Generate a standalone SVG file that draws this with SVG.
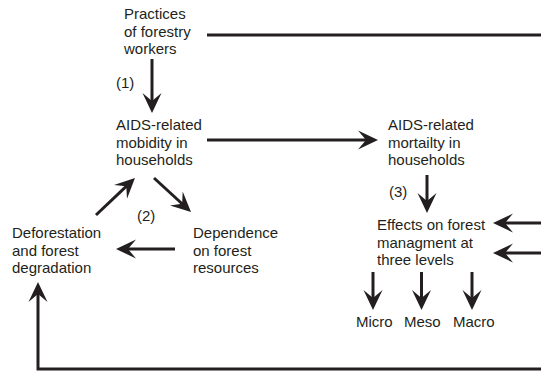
<svg xmlns="http://www.w3.org/2000/svg" width="541" height="371" viewBox="0 0 541 371">
<style>
text{font-family:"Liberation Sans",Arial,sans-serif;font-size:15px;fill:#231f20}
.c{fill:none;stroke:#231f20;stroke-width:3}
</style>
<defs>
<marker id="ah" markerUnits="userSpaceOnUse" viewBox="0 0 20 20" markerWidth="20" markerHeight="20" refX="9" refY="10" orient="auto">
<path d="M20,10 L0,0.5 L8,10 L0,19.5 Z" fill="#231f20"/>
</marker>
</defs>
<rect width="541" height="371" fill="#fff"/>
<g id="connectors">
<line class="c" x1="207" y1="35" x2="541" y2="35"/>
<line class="c" x1="152" y1="59" x2="152" y2="102" marker-end="url(#ah)"/>
<line class="c" x1="207" y1="140" x2="367" y2="140" marker-end="url(#ah)"/>
<line class="c" x1="427" y1="175" x2="427" y2="202" marker-end="url(#ah)"/>
<line class="c" x1="541" y1="223" x2="504" y2="223" marker-end="url(#ah)"/>
<line class="c" x1="541" y1="253" x2="504" y2="253" marker-end="url(#ah)"/>
<line class="c" x1="373" y1="272" x2="373" y2="299" marker-end="url(#ah)"/>
<line class="c" x1="421.5" y1="272" x2="421.5" y2="299" marker-end="url(#ah)"/>
<line class="c" x1="472" y1="272" x2="472" y2="299" marker-end="url(#ah)"/>
<polyline class="c" points="541,369 38,369 38,293" marker-end="url(#ah)"/>
<line class="c" x1="96" y1="215" x2="127" y2="185.6" marker-end="url(#ah)"/>
<line class="c" x1="154" y1="178" x2="182.9" y2="204.5" marker-end="url(#ah)"/>
<line class="c" x1="175" y1="249" x2="127" y2="249" marker-end="url(#ah)"/>
</g>
<g id="practices"><text x="124" y="19">Practices</text><text x="124" y="36.5">of forestry</text><text x="124" y="54">workers</text></g>
<g id="label1"><text x="116" y="88">(1)</text></g>
<g id="morbidity"><text x="116" y="130">AIDS-related</text><text x="116" y="147.5">mobidity in</text><text x="116" y="165">households</text></g>
<g id="mortality"><text x="388" y="130">AIDS-related</text><text x="388" y="147.5">mortailty in</text><text x="388" y="165">households</text></g>
<g id="label3"><text x="389" y="197">(3)</text></g>
<g id="effects"><text x="377" y="230">Effects on forest</text><text x="377" y="247.5">managment at</text><text x="377" y="265">three levels</text></g>
<g id="micro"><text x="356" y="327">Micro</text></g>
<g id="meso"><text x="404" y="327">Meso</text></g>
<g id="macro"><text x="453" y="327">Macro</text></g>
<g id="deforestation"><text x="12" y="238">Deforestation</text><text x="12" y="255.5">and forest</text><text x="12" y="273">degradation</text></g>
<g id="dependence"><text x="193" y="238">Dependence</text><text x="193" y="255.5">on forest</text><text x="193" y="273">resources</text></g>
<g id="label2"><text x="137" y="221">(2)</text></g>
</svg>
